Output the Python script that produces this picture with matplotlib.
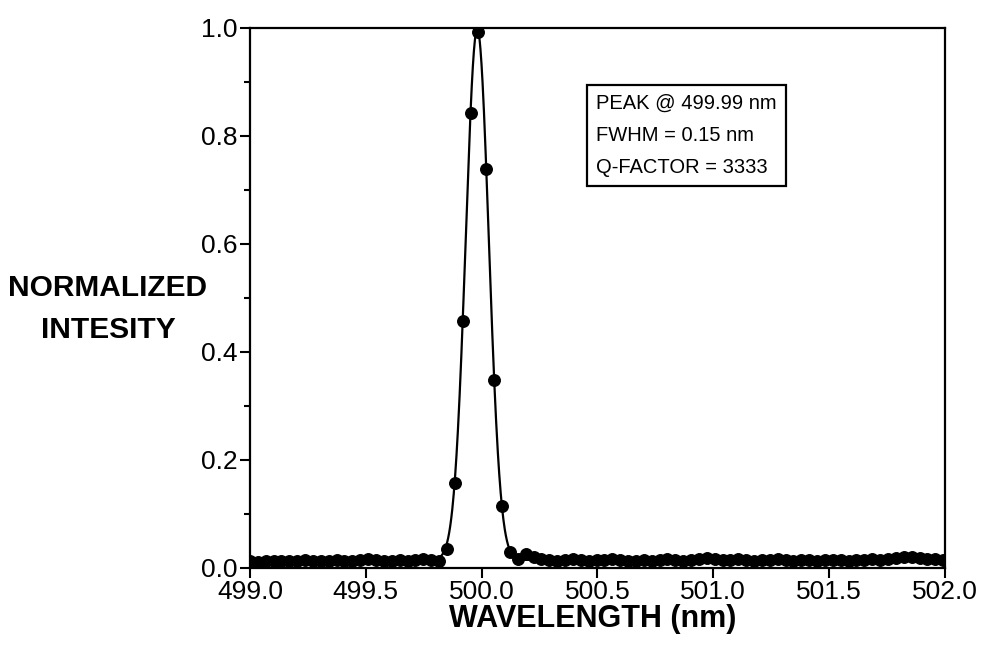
import numpy as np
import matplotlib
matplotlib.use("Agg")
import matplotlib.pyplot as plt
from matplotlib.ticker import MultipleLocator, FormatStrFormatter

plt.rcParams['font.family'] = ['Liberation Sans', 'DejaVu Sans']

# spectrometer scan: start wavelength and step (nm)
wl_start = 499.0
wl_step = 0.034

# normalized intensity for every sample of the scan
base_left = [0.012, 0.011, 0.013, 0.012, 0.012, 0.013, 0.012, 0.014, 0.013, 0.012,
             0.013, 0.014, 0.013, 0.012, 0.015, 0.017, 0.015, 0.013, 0.012, 0.014,
             0.013, 0.015, 0.016, 0.014, 0.013]
peak = [0.036, 0.158, 0.457, 0.843, 0.993, 0.739, 0.348, 0.115, 0.030, 0.017, 0.025]
base_right = [0.020, 0.016, 0.014, 0.013, 0.015, 0.016, 0.014, 0.013, 0.015, 0.014,
              0.016, 0.015, 0.013, 0.012, 0.014, 0.013, 0.015, 0.016, 0.014, 0.013,
              0.015, 0.017, 0.018, 0.016, 0.015, 0.014, 0.016, 0.015, 0.013, 0.014,
              0.015, 0.016, 0.014, 0.013, 0.015, 0.014, 0.013, 0.014, 0.015, 0.014,
              0.013, 0.014, 0.015, 0.016, 0.015, 0.017, 0.019, 0.021, 0.020, 0.018,
              0.017, 0.016, 0.015]

intensity = np.array(base_left + peak + base_right)
wavelength = wl_start + wl_step * np.arange(len(intensity))

x_ticks = [499.0, 499.5, 500.0, 500.5, 501.0, 501.5, 502.0]
y_ticks = [0.0, 0.2, 0.4, 0.6, 0.8, 1.0]
info_lines = ["PEAK @ 499.99 nm", "FWHM = 0.15 nm", "Q-FACTOR = 3333"]

# gaussian fit on top of the flat background
background = np.median(intensity)
sel = intensity > 0.1
coef = np.polyfit(wavelength[sel], np.log(intensity[sel] - background), 2,
                  w=intensity[sel])
x_fit = np.linspace(wl_start, 502.0, 2000)
y_fit = background + np.exp(np.polyval(coef, x_fit))

fig = plt.figure(figsize=(9.81, 6.48), dpi=100)
ax = fig.add_axes([0.2548, 0.1235, 0.7085, 0.8333])

ax.plot(x_fit, y_fit, color='black', lw=1.6, zorder=2)
ax.plot(wavelength, intensity, 'o', color='black', ms=8.3, zorder=3)

ax.set_xlim(499.0, 502.0)
ax.set_ylim(0.0, 1.0)
ax.set_xticks(x_ticks)
ax.set_yticks(y_ticks)
ax.xaxis.set_major_formatter(FormatStrFormatter('%.1f'))
ax.yaxis.set_major_formatter(FormatStrFormatter('%.1f'))
ax.yaxis.set_minor_locator(MultipleLocator(0.1))
ax.tick_params(axis='both', which='major', direction='out', length=7, width=1.5,
               labelsize=19)
ax.tick_params(axis='x', which='major', pad=1.5)
ax.tick_params(axis='y', which='major', pad=2)
ax.tick_params(axis='y', which='minor', direction='out', length=4, width=1.5)
for sp in ax.spines.values():
    sp.set_linewidth(1.6)

ax.text(0.498, 0.878, "\n".join(info_lines), transform=ax.transAxes,
        ha='left', va='top', fontsize=14.5, linespacing=1.87,
        bbox=dict(boxstyle='square,pad=0.45', fc='white', ec='black', lw=1.6))

fig.text(108 / 981, 1 - 309 / 648, "NORMALIZED\nINTESITY", ha='center', va='center',
         multialignment='center', fontsize=21.5, fontweight='bold', linespacing=1.6)
fig.text(593 / 981, 1 - 619 / 648, "WAVELENGTH (nm)", ha='center', va='center',
         fontsize=22, fontweight='bold')

fig.savefig("out.png", dpi=100)
